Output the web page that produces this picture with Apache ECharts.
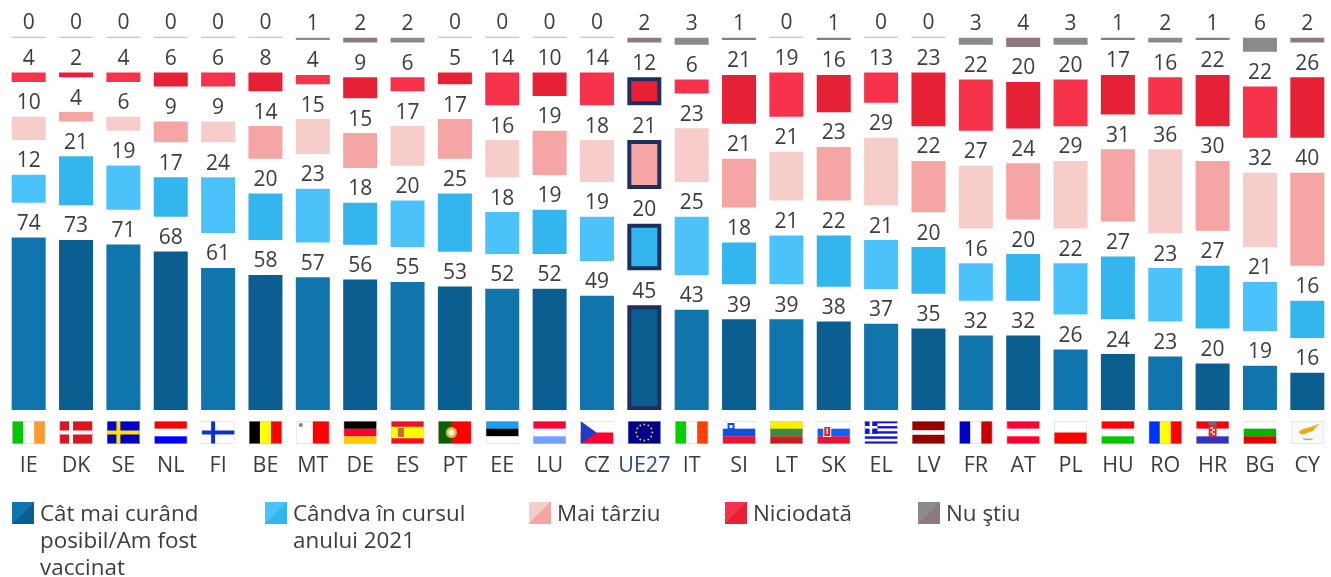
<!DOCTYPE html>
<html>
<head>
<meta charset="utf-8">
<style>
  html, body { margin: 0; padding: 0; background: #fff; }
  #chart { width: 1331px; height: 577px; }
</style>
<script src="https://cdn.jsdelivr.net/npm/echarts@6/dist/echarts.min.js"></script>
</head>
<body>
<div id="chart"></div>
<script>
const countries = ['IE','DK','SE','NL','FI','BE','MT','DE','ES','PT','EE','LU','CZ','UE27','IT','SI','LT','SK','EL','LV','FR','AT','PL','HU','RO','HR','BG','CY'];
const asSoon = [74,73,71,68,61,58,57,56,55,53,52,52,49,45,43,39,39,38,37,35,32,32,26,24,23,20,19,16];
const in2021 = [12,21,19,17,24,20,23,18,20,25,18,19,19,20,25,18,21,22,21,20,16,20,22,27,23,27,21,16];
const later = [10,4,6,9,9,14,15,15,17,17,16,19,18,21,23,21,21,23,29,22,27,24,29,31,36,30,32,40];
const never = [4,2,4,6,6,8,4,9,6,5,14,10,14,12,6,21,19,16,13,23,22,20,20,17,16,22,22,26];
const dontKnow = [0,0,0,0,0,0,1,2,2,0,0,0,0,2,3,1,0,1,0,0,3,4,3,1,2,1,6,2];

// empty band between two segments, in axis units
const GAP = 14.95;
const EU_INDEX = countries.indexOf('UE27');
const FONT = '"Open Sans", sans-serif';
const TEXT = '#3d3d3d';
const LEGEND_SIZE = 22.4;

// each segment alternates between two shades from one country to the next
const palette = {
  asSoon: ['#1074ad', '#0b5f90'],
  in2021: ['#4bc3fa', '#33b5ee'],
  later: ['#f6cdc9', '#f5a5a3'],
  never: ['#f6334a', '#e62035'],
  dontKnow: ['#8a8a8a', '#8e7a7e']
};
const ZERO_LINE = '#bcb4b6';

function flagUrl(body) {
  const svg = '<svg xmlns="http://www.w3.org/2000/svg" width="33" height="23" viewBox="0 0 33 23">' + body +
    '<rect x=".25" y=".25" width="32.5" height="22.5" fill="none" stroke="#d8cccc" stroke-width=".5"/></svg>';
  return 'data:image/svg+xml;charset=utf-8,' + encodeURIComponent(svg);
}
function rect(x, y, w, h, c) {
  return '<rect x="' + x + '" y="' + y + '" width="' + w + '" height="' + h + '" fill="' + c + '"/>';
}
function hb(cols) {
  const h = 23 / cols.length;
  return cols.map((c, i) => rect(0, i * h, 33, h + 0.2, c)).join('');
}
function vb(cols) {
  const w = 33 / cols.length;
  return cols.map((c, i) => rect(i * w, 0, w + 0.2, 23, c)).join('');
}
function cross(bg, fg) {
  return rect(0, 0, 33, 23, bg) + rect(9.5, 0, 4, 23, fg) + rect(0, 9.5, 33, 4, fg);
}
function euStars() {
  let s = rect(0, 0, 33, 23, '#00008c');
  for (let i = 0; i < 12; i++) {
    const a = i * Math.PI / 6;
    s += '<circle cx="' + (16.5 + 8 * Math.cos(a)) + '" cy="' + (11.5 + 8 * Math.sin(a)) + '" r="1" fill="#e8d020"/>';
  }
  return s;
}
function greece() {
  let s = '';
  for (let i = 0; i < 9; i++) s += rect(0, i * 23 / 9, 33, 23 / 9, i % 2 ? '#fff' : '#1414d2');
  return s + rect(0, 0, 12.8, 12.8, '#1414d2') + rect(5, 0, 2.6, 12.8, '#fff') + rect(0, 5, 12.8, 2.6, '#fff');
}

const flags = {
  IE: vb(['#00c800', '#fff', '#ff9a33']),
  DK: cross('#dd1520', '#fff'),
  SE: cross('#0000c8', '#ffe000'),
  NL: hb(['#ff0000', '#fff', '#0000ff']),
  FI: cross('#fff', '#0a32d0'),
  BE: vb(['#000', '#ffff00', '#ff0000']),
  MT: vb(['#fff', '#ff0000']) + '<circle cx="4.5" cy="4" r="2" fill="#8a7a7a"/>',
  DE: hb(['#000', '#ff0030', '#ffcc00']),
  ES: rect(0, 0, 33, 23, '#f01020') + rect(0, 5.75, 33, 11.5, '#ffff00') + rect(7, 7, 6, 9, '#c86a40'),
  PT: rect(0, 0, 33, 23, '#ff0000') + rect(0, 0, 13, 23, '#006400') + '<circle cx="13" cy="11.5" r="5.5" fill="#d8c030"/><circle cx="13" cy="11.5" r="3" fill="#eee"/>',
  EE: hb(['#1e9cf0', '#000', '#fff']),
  LU: hb(['#ff0030', '#fff', '#6ea0ff']),
  CZ: hb(['#fff', '#ff0030']) + '<path d="M0 0L16 11.5L0 23Z" fill="#1e3cc8"/>',
  UE27: euStars(),
  IT: vb(['#00d000', '#fff', '#ff4000']),
  SI: hb(['#fff', '#1050e0', '#f01030']) + rect(5, 2, 7, 9, '#1050e0') + rect(7, 4, 3, 3, '#fff'),
  LT: hb(['#ffee00', '#3c8c3c', '#c81e1e']),
  SK: hb(['#fff', '#1060ff', '#f01030']) + rect(6, 5, 8, 11, '#fff') + rect(7, 6, 6, 9, '#e02030') + rect(9.3, 7, 1.4, 6, '#fff'),
  EL: greece(),
  LV: rect(0, 0, 33, 23, '#960000') + rect(0, 9.2, 33, 4.6, '#fff'),
  FR: vb(['#0000c8', '#fff', '#c80000']),
  AT: hb(['#ff0030', '#fff', '#ff0030']),
  PL: hb(['#fff', '#ff0000']),
  HU: hb(['#ff0000', '#fff', '#00c800']),
  RO: vb(['#0032ff', '#ffff00', '#ff0000']),
  HR: hb(['#ff0000', '#fff', '#3232c8']) + rect(12.5, 4, 8, 12, '#d83030') + rect(14.5, 6, 2, 2, '#fff') + rect(16.5, 8, 2, 2, '#fff') + rect(14.5, 10, 2, 2, '#fff') + rect(16.5, 12, 2, 2, '#fff') + rect(12.5, 1, 8, 3, '#6a6a80'),
  BG: hb(['#fff', '#00b400', '#e60000']),
  CY: rect(0, 0, 33, 23, '#fbfafa') + '<path d="M8 11C11 7 17 7 20 6C23 5 26 3 29 3C26 5 24 7 23 9C20 12 16 11 14 13C11 14 9 13 8 11Z" fill="#f0a818"/><path d="M11 17C14 20 20 20 23 17C20 18 14 18 11 17Z" fill="#78c050"/>'
};

// x axis labels: flag picture on top, country code below
const richLabels = {
  code: { fontFamily: FONT, fontSize: 21.5, color: TEXT, lineHeight: 44, height: 44, align: 'center' },
  eu: { fontFamily: FONT, fontSize: 21.5, color: '#2d4a7c', lineHeight: 44, height: 44, align: 'center' }
};
countries.forEach((c, i) => {
  richLabels['f' + i] = {
    width: 33,
    height: 23,
    lineHeight: 23,
    align: 'center',
    backgroundColor: { image: flagUrl(flags[c]) }
  };
});

function segment(name, values, colors, extra) {
  return Object.assign({
    name: name,
    type: 'bar',
    stack: 'total',
    barWidth: 34,
    animation: false,
    data: values.map((v, i) => {
      const item = { value: v, itemStyle: { color: v === 0 ? ZERO_LINE : colors[i % 2] } };
      if (i === EU_INDEX && name !== 'Nu ştiu') {
        item.itemStyle.borderColor = '#1c3060';
        item.itemStyle.borderWidth = 4;
      }
      return item;
    }),
    label: {
      show: true,
      position: 'top',
      distance: 3,
      fontFamily: FONT,
      fontSize: 21,
      color: TEXT
    }
  }, extra || {});
}

function spacer(id) {
  return {
    name: id,
    type: 'bar',
    stack: 'total',
    barWidth: 34,
    silent: true,
    animation: false,
    itemStyle: { color: 'transparent' },
    data: countries.map(() => GAP)
  };
}

function swatch(name, colors, left) {
  return {
    left: left,
    top: 502,
    padding: 0,
    orient: 'horizontal',
    itemWidth: 22,
    itemHeight: 22,
    selectedMode: false,
    icon: 'rect',
    formatter: (n) => '{t|' + n.split('|')[0] + '}',
    // rich padding pushes the text down so it sits level with the swatch
    textStyle: {
      rich: {
        t: { fontFamily: FONT, fontSize: LEGEND_SIZE, color: TEXT, padding: [4, 0, 0, 1] }
      }
    },
    data: [{
      name: name,
      itemStyle: {
        color: new echarts.graphic.LinearGradient(0, 0, 1, 1, [
          { offset: 0, color: colors[0] },
          { offset: 0.5, color: colors[0] },
          { offset: 0.5, color: colors[1] },
          { offset: 1, color: colors[1] }
        ])
      }
    }]
  };
}

function extraLine(text, left, top) {
  return { type: 'text', left: left, top: top, style: { text: text, fontFamily: FONT, fontSize: LEGEND_SIZE, fill: TEXT } };
}

const nameAsSoon = 'Cât mai curând|posibil/Am fost|vaccinat';
const nameIn2021 = 'Cândva în cursul|anului 2021';

const chart = echarts.init(document.getElementById('chart'));
chart.setOption({
  backgroundColor: '#fff',
  animation: false,
  grid: { left: 5, width: 1333, top: 14, height: 396 },
  xAxis: {
    type: 'category',
    data: countries,
    axisLine: { show: false },
    axisTick: { show: false },
    axisLabel: {
      interval: 0,
      margin: 11,
      formatter: (value, i) => '{f' + i + '| }\n{' + (value === 'UE27' ? 'eu' : 'code') + '|' + value + '}',
      rich: richLabels
    }
  },
  yAxis: { type: 'value', min: 0, max: 170, show: false },
  legend: [
    swatch(nameAsSoon, palette.asSoon, 12),
    swatch(nameIn2021, palette.in2021, 265),
    swatch('Mai târziu', palette.later, 529),
    swatch('Niciodată', palette.never, 725),
    swatch('Nu ştiu', palette.dontKnow, 918)
  ],
  graphic: [
    extraLine('posibil/Am fost', 40, 531),
    extraLine('vaccinat', 40, 558),
    extraLine('anului 2021', 293, 531)
  ],
  series: [
    segment(nameAsSoon, asSoon, palette.asSoon),
    spacer('gap1'),
    segment(nameIn2021, in2021, palette.in2021),
    spacer('gap2'),
    segment('Mai târziu', later, palette.later),
    spacer('gap3'),
    segment('Niciodată', never, palette.never),
    spacer('gap4'),
    segment('Nu ştiu', dontKnow, palette.dontKnow, { barMinHeight: 1 })
  ]
});
</script>
</body>
</html>
